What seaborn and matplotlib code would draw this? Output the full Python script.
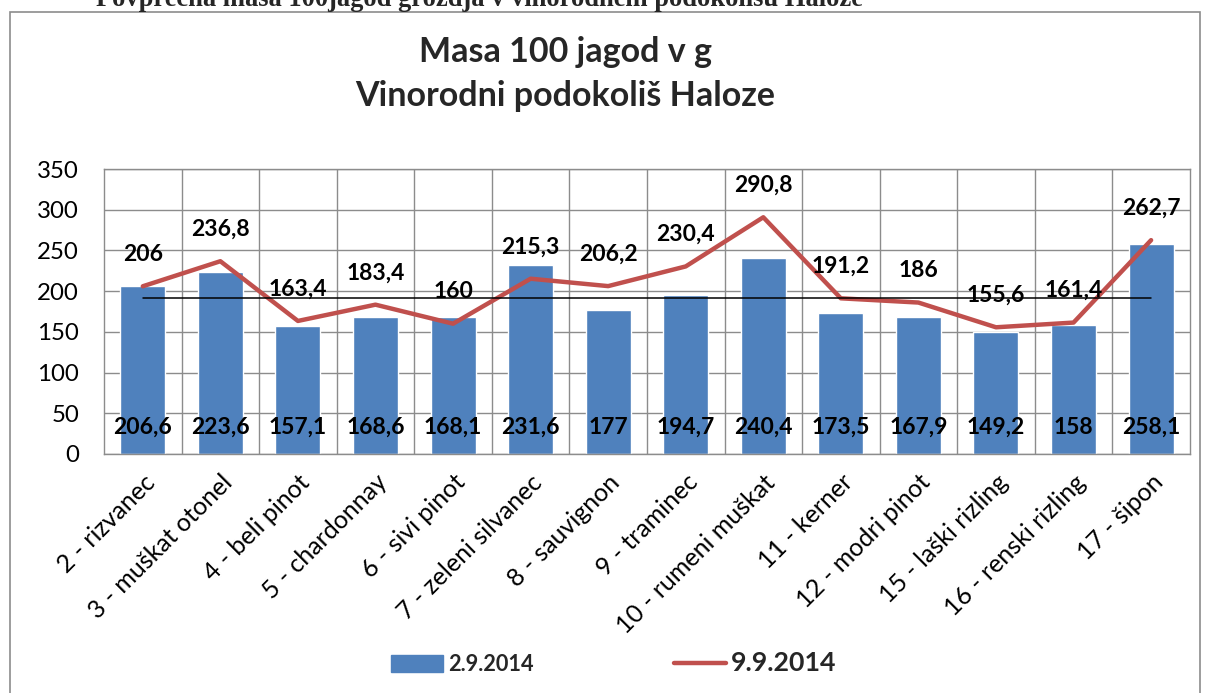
import matplotlib.pyplot as plt
import matplotlib.patches as mpatches
from matplotlib import font_manager
from matplotlib.lines import Line2D
import seaborn as sns
import numpy as np
import pandas as pd

sortas = ["2 - rizvanec", "3 - muškat otonel", "4 - beli pinot", "5 - chardonnay",
          "6 - sivi pinot", "7 - zeleni silvanec", "8 - sauvignon", "9 - traminec",
          "10 - rumeni muškat", "11 - kerner", "12 - modri pinot", "15 - laški rizling",
          "16 - renski rizling", "17 - šipon"]
masa_0209 = [206.6, 223.6, 157.1, 168.6, 168.1, 231.6, 177, 194.7, 240.4, 173.5,
             167.9, 149.2, 158, 258.1]
masa_0909 = [206, 236.8, 163.4, 183.4, 160, 215.3, 206.2, 230.4, 290.8, 191.2,
             186, 155.6, 161.4, 262.7]
yticks = [0, 50, 100, 150, 200, 250, 300, 350]

BLUE = "#4F81BD"
RED = "#C0504D"
GRID = "#8c8c8c"

sns.set_theme(style="white")
plt.rcParams['font.family'] = ['Lato', 'DejaVu Sans']


def has_bold(fam):
    try:
        path = font_manager.findfont(font_manager.FontProperties(family=fam, weight="bold"),
                                     fallback_to_default=False)
    except Exception:
        return False
    return "bold" in path.lower()


BOLD = next((f for f in ["Lato", "Open Sans", "Roboto", "Noto Sans", "Liberation Sans"]
             if has_bold(f)), "DejaVu Sans")
BF = [BOLD, "DejaVu Sans"]


def fmt(v):
    return f"{v:g}".replace(".", ",")


df = pd.DataFrame({"sorta": sortas, "d1": masa_0209, "d2": masa_0909})
pos = np.arange(len(sortas))

fig = plt.figure(figsize=(12.08, 6.93), dpi=100)
ax = fig.add_axes([0.0861, 0.345, 0.8989, 0.411])

sns.barplot(data=df, x="sorta", y="d1", color=BLUE, saturation=1, width=0.58, ax=ax)
sns.lineplot(x=pos, y=df["d2"], color=RED, linewidth=3.2, ax=ax, solid_capstyle="round")

# average line of the first date
avg = np.mean(masa_0209)
ax.plot([pos[0], pos[-1]], [avg, avg], color="black", linewidth=1.1, zorder=4)

# data labels
for i, v in enumerate(masa_0209):
    ax.text(i, 33, fmt(v), ha="center", va="center", fontsize=16.5,
            fontweight="bold", family=BF, color="black", zorder=5)
for i, v in enumerate(masa_0909):
    ax.annotate(fmt(v), (i, v), xytext=(0, 23), textcoords="offset points",
                ha="center", va="center", fontsize=16.5, fontweight="bold", family=BF,
                color="black", zorder=5)

ax.set_xlim(-0.5, len(sortas) - 0.5)
ax.set_ylim(0, 350)
ax.set_yticks(yticks)
ax.set_yticklabels([str(t) for t in yticks], fontsize=17.3)
ax.set_xticks(pos)
ax.set_xticklabels(sortas, rotation=45, ha="right", rotation_mode="anchor", fontsize=18)
ax.set_xlabel("")
ax.set_ylabel("")
ax.tick_params(axis="y", length=0, pad=18, colors="black")
ax.tick_params(axis="x", length=0, pad=12, colors="black")
ax.set_xticks(pos[:-1] + 0.5, minor=True)
ax.tick_params(axis="x", which="minor", length=0)
ax.grid(axis="y", color=GRID, linewidth=1)
ax.grid(axis="x", which="minor", color=GRID, linewidth=1)
ax.set_axisbelow(True)
for sp in ax.spines.values():
    sp.set_visible(True)
    sp.set_color(GRID)
    sp.set_linewidth(1)

# titles
fig.text(0.468, 1 - 52 / 693, "Masa 100 jagod v g", ha="center", va="center",
         fontsize=24.5, fontweight="bold", family=BF)
fig.text(0.468, 1 - 96 / 693, "Vinorodni podokoliš Haloze", ha="center", va="center",
         fontsize=24.5, fontweight="bold", family=BF)
fig.text(0.397, 1 - 6 / 693, "Povprečna masa 100jagod grozdja v vinorodnem podokolišu Haloze",
         ha="center", va="baseline", fontsize=19.1, fontweight="bold",
         family=["Liberation Serif", "DejaVu Serif"])

# chart border
fig.patches.append(mpatches.Rectangle((10 / 1208, -0.05), 1190 / 1208, 1.05 - 12 / 693,
                                      transform=fig.transFigure, fill=False,
                                      edgecolor=GRID, linewidth=1.2))

# legend
handles = [mpatches.Patch(color=BLUE, label="2.9.2014"),
           Line2D([0], [0], color=RED, linewidth=3.2, solid_capstyle="round", label="9.9.2014")]
leg = fig.legend(handles=handles, loc="center", bbox_to_anchor=(0.508, 1 - 663 / 693),
                 ncol=2, frameon=False, fontsize=15.7, handlelength=2.4,
                 handleheight=0.85, handletextpad=0.25, columnspacing=6.4)
for t, fs in zip(leg.get_texts(), [15.7, 19.3]):
    t.set_fontweight("bold")
    t.set_family(BF)
    t.set_fontsize(fs)

fig.savefig("out.png", dpi=100)
